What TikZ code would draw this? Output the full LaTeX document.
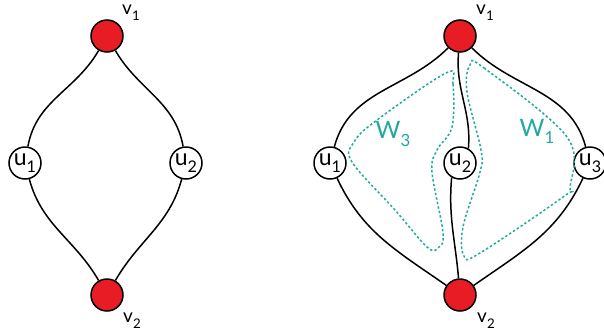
\documentclass[tikz,border=0pt]{standalone}
\usepackage{fontspec}
\setmainfont{Lato}
\definecolor{vred}{RGB}{232,28,36}
\definecolor{wteal}{RGB}{32,170,158}
% label with a lowered index set in the text font
\newcommand{\idx}[3]{{\fontsize{#1}{#1}\selectfont #2\raisebox{-0.3em}{\scalebox{0.7}{#3}}}}
\begin{document}
\begin{tikzpicture}[x=1pt,y=-1pt,
  vert/.style={circle,draw,line width=1.5pt,fill=vred,minimum size=32pt,inner sep=0pt},
  uvert/.style={circle,draw,line width=1.5pt,fill=white,minimum size=32pt,inner sep=0pt},
  lab/.style={inner sep=0pt},
  edge/.style={line width=1.5pt},
  region/.style={draw=wteal,line width=1.5pt,dash pattern=on 2.4pt off 2.2pt},
  wlab/.style={text=wteal,inner sep=0pt}]
\useasboundingbox (0,0) rectangle (604,335);

% left graph
\node[vert] (a1) at (107,36) {};
\node[vert] (a2) at (107,295) {};
\node[uvert] (au1) at (25,163) {\idx{23}{u}{1}};
\node[uvert] (au2) at (186,163) {\idx{23}{u}{2}};
\node[lab] (la1) at (131,13) {\idx{19}{v}{1}};
\node[lab] (la2) at (132,321) {\idx{19}{v}{2}};
\draw[edge] (a1) to[out=240,in=80] (au1);
\draw[edge] (a1) to[out=-60,in=100] (au2);
\draw[edge] (au1) to[out=-75,in=120] (a2);
\draw[edge] (au2) to[out=-105,in=60] (a2);

% right graph
\node[vert] (b1) at (460,36) {};
\node[vert] (b2) at (460,295) {};
\node[uvert] (bu1) at (330,163) {\idx{23}{u}{1}};
\node[uvert] (bu2) at (460,163) {\idx{23}{u}{2}};
\node[uvert] (bu3) at (590,163) {\idx{23}{u}{3}};
\node[lab] (lb1) at (485,13) {\idx{19}{v}{1}};
\node[lab] (lb2) at (486,321) {\idx{19}{v}{2}};
\draw[edge] (b1) to[out=225,in=75] (bu1);
\draw[edge] (b1) to[out=-45,in=105] (bu3);
\draw[edge] (b1.-95) to[out=-95,in=85] (bu2.60);
\draw[edge] (bu2.-120) to[out=-95,in=95] (b2.95);
\draw[edge] (bu1) to[out=-65,in=145] (b2);
\draw[edge] (bu3) to[out=-115,in=35] (b2);

% regions
\draw[region] plot[smooth cycle,tension=0.6] coordinates {
  (446,73) (453,84) (452,127) (437,150) (432,172) (443,233) (438,248)
  (427,247) (395,210) (352,162) (354,142) (377,120)};
\draw[region] plot[smooth cycle,tension=0.6] coordinates {
  (470,65) (484,68) (567,137) (570,187) (563,197) (480,253) (464,256)
  (463,227) (480,172) (481,150) (467,92)};
\node[wlab] (w3) at (393,134) {\idx{24}{W}{3}};
\node[wlab] (w1) at (537,131) {\idx{24}{W}{1}};
\end{tikzpicture}
\end{document}
